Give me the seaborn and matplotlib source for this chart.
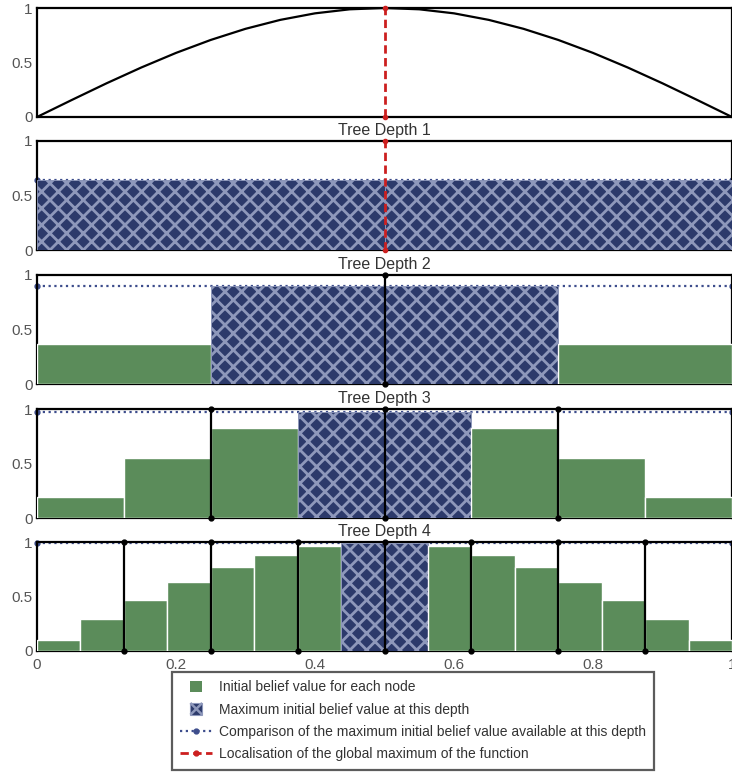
import matplotlib
matplotlib.use("Agg")
import matplotlib.pyplot as plt
from matplotlib.patches import Patch, Rectangle
from matplotlib.lines import Line2D
from matplotlib.legend_handler import HandlerPatch
import pandas as pd
import seaborn as sns

# Objective function sampled on [0, 1]
curve_x = [0.0, 0.05, 0.1, 0.15, 0.2, 0.25, 0.3, 0.35, 0.4, 0.45, 0.5,
           0.55, 0.6, 0.65, 0.7, 0.75, 0.8, 0.85, 0.9, 0.95, 1.0]
curve_y = [0.0, 0.156, 0.309, 0.454, 0.588, 0.707, 0.809, 0.891, 0.951, 0.988, 1.0,
           0.988, 0.951, 0.891, 0.809, 0.707, 0.588, 0.454, 0.309, 0.156, 0.0]

# Initial belief value of every node, per tree depth
depth1_values = [0.64, 0.64]
depth2_values = [0.37, 0.90, 0.90, 0.37]
depth3_values = [0.19, 0.55, 0.83, 0.97, 0.97, 0.83, 0.55, 0.19]
depth4_values = [0.10, 0.29, 0.47, 0.63, 0.77, 0.88, 0.96, 0.99,
                 0.99, 0.96, 0.88, 0.77, 0.63, 0.47, 0.29, 0.10]
depth_titles = ["Tree Depth 1", "Tree Depth 2", "Tree Depth 3", "Tree Depth 4"]

global_max_x = 0.5
x_ticks = [0, 0.2, 0.4, 0.6, 0.8, 1]
x_tick_labels = ["0", "0.2", "0.4", "0.6", "0.8", "1"]
y_ticks = [0, 0.5, 1]
y_tick_labels = ["0", "0.5", "1"]

legend_labels = [
    "Initial belief value for each node",
    "Maximum initial belief value at this depth",
    "Comparison of the maximum initial belief value available at this depth",
    "Localisation of the global maximum of the function",
]

GREEN = "#5b8c5a"
NAVY = "#2c3a6b"
HATCH_LINE = "#8e98bb"
BLUE = "#3d4d8c"
RED = "#cc1f1f"
TICK_GREY = "#555555"
TEXT = "#333333"
RED_DASH = (0, (3, 1.6))
BLUE_DOT = (0, (1.0, 1.6))

sns.set_theme(style="white")
plt.rcParams["font.family"] = ["Liberation Sans", "DejaVu Sans"]
plt.rcParams["hatch.linewidth"] = 2.0

W, H = 732, 772
fig = plt.figure(figsize=(W / 100, H / 100), dpi=100)

left = 37 / W
width = 1.0 - left
panel_tops = [8, 141, 275, 409, 542]
panel_h = 109


def make_axes(top_px):
    return fig.add_axes([left, 1 - (top_px + panel_h) / H, width, panel_h / H])


def style_axes(ax, show_x):
    ax.set_xlim(0, 1)
    ax.set_ylim(0, 1)
    ax.set_yticks(y_ticks)
    ax.set_yticklabels(y_tick_labels)
    ax.set_xticks(x_ticks)
    if show_x:
        ax.set_xticklabels(x_tick_labels)
    else:
        ax.set_xticklabels([])
    ax.tick_params(axis="y", length=0, labelsize=11, colors=TICK_GREY, pad=3)
    ax.tick_params(axis="x", length=0, labelsize=11, colors=TICK_GREY, pad=5)
    for s in ax.spines.values():
        s.set_color("black")
        s.set_linewidth(1.6)
    ax.set_xlabel("")
    ax.set_ylabel("")


def draw_global_max(ax):
    ax.plot([global_max_x, global_max_x], [0, 1], color=RED, lw=2,
            ls=RED_DASH, marker="o", ms=3, clip_on=False, zorder=6)


# Panel with the objective function
ax0 = make_axes(panel_tops[0])
df_curve = pd.DataFrame({"x": curve_x, "y": curve_y})
sns.lineplot(data=df_curve, x="x", y="y", ax=ax0, color="black", lw=1.6, zorder=4)
draw_global_max(ax0)
style_axes(ax0, False)

all_depths = [depth1_values, depth2_values, depth3_values, depth4_values]
for i, vals in enumerate(all_depths):
    ax = make_axes(panel_tops[i + 1])
    n = len(vals)
    w = 1.0 / n
    starts = [k * w for k in range(n)]
    vmax = max(vals)
    for x0, v in zip(starts, vals):
        if v == vmax:
            ax.bar(x0, v, width=w, align="edge", facecolor=NAVY, edgecolor=HATCH_LINE,
                   hatch="xx", linewidth=0.6, zorder=3)
        else:
            ax.bar(x0, v, width=w, align="edge", facecolor=GREEN, edgecolor="white",
                   linewidth=1.0, zorder=3)
    # dotted comparison line at the best value of this depth
    ax.plot([0, 1], [vmax, vmax], color=BLUE, lw=1.6, ls=BLUE_DOT,
            marker="o", ms=3.5, clip_on=False, zorder=2)
    # split boundaries inherited from the parent depth
    if i == 0:
        draw_global_max(ax)
    else:
        parent_n = n // 2
        for k in range(1, parent_n):
            xb = k / parent_n
            ax.plot([xb, xb], [0, 1], color="black", lw=1.6, marker="o", ms=3.5,
                    clip_on=False, zorder=5)
    ax.set_title(depth_titles[i], fontsize=11.5, color=TEXT, pad=4)
    style_axes(ax, i == len(all_depths) - 1)


class SquareHandler(HandlerPatch):
    """Draws patch legend entries as a small centred square; hatched ones get a cross."""

    def create_artists(self, legend, orig_handle, xdescent, ydescent, width, height,
                       fontsize, trans):
        side = 0.85 * fontsize
        cx = width / 2 - xdescent
        cy = height / 2 - ydescent
        x0, y0 = cx - side / 2, cy - side / 2
        r = Rectangle((x0, y0), side, side,
                      facecolor=orig_handle.get_facecolor(), edgecolor="none")
        r.set_transform(trans)
        artists = [r]
        if orig_handle.get_hatch():
            col = orig_handle.get_edgecolor()
            for xs, ys in (([x0, x0 + side], [y0, y0 + side]),
                           ([x0, x0 + side], [y0 + side, y0])):
                ln = Line2D(xs, ys, color=col, lw=1.8, solid_capstyle="butt")
                ln.set_transform(trans)
                artists.append(ln)
            fr = Rectangle((x0, y0), side, side, facecolor="none", edgecolor=col, lw=0.8)
            fr.set_transform(trans)
            artists.append(fr)
        return artists


handles = [
    Patch(facecolor=GREEN, edgecolor=GREEN, linewidth=0.5),
    Patch(facecolor=NAVY, edgecolor=HATCH_LINE, hatch="x", linewidth=0.6),
    Line2D([0], [0], color=BLUE, lw=1.6, ls=BLUE_DOT, marker="o", ms=3.5),
    Line2D([0], [0], color=RED, lw=2, ls=RED_DASH, marker="o", ms=3.5),
]
leg = fig.legend(handles, legend_labels, loc="upper left",
                 bbox_to_anchor=(172 / W, 1 - 672 / H), bbox_transform=fig.transFigure,
                 fontsize=10, frameon=True, fancybox=False, borderpad=0.6,
                 labelspacing=0.6, handlelength=2.3, handleheight=0.9,
                 handletextpad=0.45, borderaxespad=0,
                 handler_map={Patch: SquareHandler()})
leg.get_frame().set_edgecolor(TEXT)
leg.get_frame().set_linewidth(1.6)
for t in leg.get_texts():
    t.set_color(TEXT)

fig.savefig("out.png", dpi=100)
